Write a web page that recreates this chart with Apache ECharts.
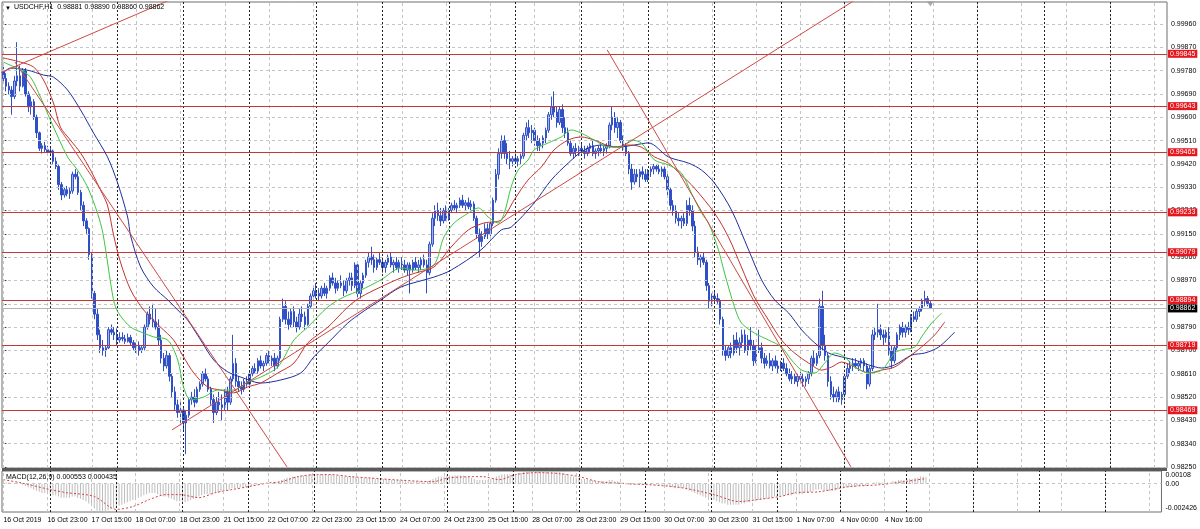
<!DOCTYPE html>
<html><head><meta charset="utf-8">
<script src="https://cdn.jsdelivr.net/npm/echarts@6/dist/echarts.min.js"></script>
<style>html,body{margin:0;padding:0;background:#fff}#c{width:1200px;height:529px}</style>
</head><body><div id="c"></div>
<script>
// ---------- DATA ----------
const symbolName = 'USDCHF,H1';
const lastQuote = ['0.98881', '0.98890', '0.98860', '0.98862'];
const macdName = 'MACD(12,26,9)';
const macdLast = ['0.000553', '0.000435'];

const axisSlots = 421;            // bar slots across the time axis (incl. empty right shift)
const xTickStep = 16;             // bars between time labels
const xTickLabels = ['16 Oct 2019','16 Oct 23:00','17 Oct 15:00','18 Oct 07:00','18 Oct 23:00','21 Oct 15:00',
  '22 Oct 07:00','22 Oct 23:00','23 Oct 15:00','24 Oct 07:00','24 Oct 23:00','25 Oct 15:00','28 Oct 07:00',
  '28 Oct 23:00','29 Oct 15:00','30 Oct 07:00','30 Oct 23:00','31 Oct 15:00','1 Nov 07:00','4 Nov 00:00','4 Nov 16:00'];
const daySeparators = [17,41,65,89,113,137,161,185,209,233,257,281,304,328,352,376,400];

const yTicks = [0.98250,0.98340,0.98430,0.98520,0.98610,0.98700,0.98790,0.98880,0.98970,0.99060,
  0.99150,0.99240,0.99330,0.99420,0.99510,0.99600,0.99690,0.99780,0.99870,0.99960];
const priceMin = 0.98246, priceMax = 1.00045;

const levels = [0.99845,0.99643,0.99465,0.99233,0.99079,0.98894,0.98719,0.98469];
const bidPrice = 0.98862;
const shiftBar = 335;             // chart-shift marker sits above the last bar

// [open, high, low, close]
const candles = [
[.99775,.99795,.99740,.99750],[.99750,.99770,.99700,.99720],[.99720,.99735,.99690,.99705],[.99705,.99720,.99610,.99680],
[.99680,.99760,.99670,.99740],[.99740,.99890,.99720,.99760],[.99760,.99800,.99700,.99720],[.99720,.99790,.99715,.99780],
[.99780,.99790,.99680,.99690],[.99690,.99700,.99620,.99640],[.99640,.99680,.99610,.99660],[.99660,.99670,.99590,.99600],
[.99600,.99610,.99520,.99540],[.99540,.99545,.99470,.99480],[.99480,.99500,.99460,.99490],[.99490,.99505,.99465,.99475],
[.99475,.99490,.99455,.99465],[.99465,.99485,.99450,.99470],[.99470,.99475,.99420,.99430],[.99430,.99445,.99400,.99410],
[.99410,.99420,.99320,.99340],[.99340,.99350,.99280,.99300],[.99300,.99330,.99290,.99320],[.99320,.99335,.99295,.99305],
[.99305,.99330,.99285,.99315],[.99315,.99390,.99305,.99380],[.99380,.99400,.99360,.99370],[.99370,.99390,.99300,.99310],
[.99310,.99320,.99240,.99260],[.99260,.99275,.99180,.99200],[.99200,.99210,.99150,.99170],[.99170,.99175,.99050,.99070],
[.99070,.99080,.98900,.98920],[.98920,.98930,.98820,.98840],[.98840,.98860,.98740,.98760],[.98760,.98780,.98690,.98710],
[.98710,.98740,.98680,.98700],[.98700,.98720,.98675,.98710],[.98710,.98790,.98705,.98780],[.98780,.98800,.98760,.98770],
[.98770,.98790,.98740,.98760],[.98760,.98785,.98720,.98740],[.98740,.98770,.98730,.98750],[.98750,.98770,.98735,.98745],
[.98745,.98760,.98725,.98735],[.98735,.98765,.98730,.98750],[.98750,.98760,.98720,.98730],[.98730,.98740,.98700,.98710],
[.98710,.98730,.98690,.98720],[.98720,.98735,.98680,.98700],[.98700,.98720,.98690,.98710],[.98710,.98800,.98700,.98790],
[.98790,.98850,.98780,.98840],[.98840,.98870,.98800,.98820],[.98820,.98880,.98790,.98810],[.98810,.98860,.98780,.98790],
[.98790,.98820,.98720,.98740],[.98740,.98760,.98650,.98670],[.98670,.98690,.98620,.98640],[.98640,.98700,.98630,.98680],
[.98680,.98690,.98580,.98600],[.98600,.98610,.98520,.98540],[.98540,.98560,.98470,.98490],[.98490,.98510,.98440,.98460],
[.98460,.98500,.98420,.98470],[.98470,.98480,.98390,.98420],[.98420,.98470,.98300,.98450],[.98450,.98520,.98440,.98510],
[.98510,.98540,.98490,.98520],[.98520,.98550,.98480,.98500],[.98500,.98560,.98495,.98550],[.98550,.98580,.98540,.98570],
[.98570,.98620,.98560,.98610],[.98610,.98630,.98580,.98590],[.98590,.98600,.98540,.98550],[.98550,.98560,.98490,.98510],
[.98510,.98530,.98420,.98460],[.98460,.98520,.98450,.98500],[.98500,.98540,.98470,.98490],[.98490,.98530,.98430,.98480],
[.98480,.98550,.98470,.98540],[.98540,.98560,.98470,.98500],[.98500,.98600,.98490,.98590],[.98590,.98760,.98580,.98650],
[.98650,.98670,.98560,.98580],[.98580,.98600,.98540,.98560],[.98560,.98580,.98530,.98550],[.98550,.98590,.98540,.98580],
[.98580,.98600,.98560,.98570],[.98570,.98620,.98565,.98610],[.98610,.98640,.98600,.98630],[.98630,.98650,.98610,.98620],
[.98620,.98670,.98610,.98660],[.98660,.98680,.98630,.98640],[.98640,.98660,.98620,.98650],[.98650,.98690,.98640,.98680],
[.98680,.98700,.98650,.98660],[.98660,.98680,.98640,.98670],[.98670,.98690,.98620,.98640],[.98640,.98680,.98630,.98670],
[.98670,.98830,.98660,.98820],[.98820,.98900,.98810,.98870],[.98870,.98890,.98800,.98820],[.98820,.98850,.98780,.98800],
[.98800,.98860,.98790,.98850],[.98850,.98870,.98790,.98810],[.98810,.98830,.98770,.98790],[.98790,.98860,.98780,.98840],
[.98840,.98870,.98810,.98830],[.98830,.98850,.98780,.98800],[.98800,.98880,.98795,.98870],[.98870,.98920,.98860,.98910],
[.98910,.98950,.98890,.98930],[.98930,.98960,.98900,.98920],[.98920,.98940,.98890,.98910],[.98910,.98950,.98900,.98940],
[.98940,.98960,.98910,.98920],[.98920,.98950,.98900,.98940],[.98940,.98990,.98930,.98980],[.98980,.99000,.98950,.98960],
[.98960,.98980,.98920,.98940],[.98940,.98970,.98930,.98960],[.98960,.98990,.98940,.98950],[.98950,.98970,.98910,.98930],
[.98930,.98980,.98920,.98970],[.98970,.99000,.98950,.98980],[.98980,.99000,.98930,.98950],[.98950,.99040,.98940,.99030],
[.99030,.99040,.98900,.98920],[.98920,.98970,.98900,.98960],[.98960,.99000,.98940,.98990],[.98990,.99050,.98980,.99040],
[.99040,.99080,.99020,.99060],[.99060,.99100,.99030,.99050],[.99050,.99070,.99000,.99020],[.99020,.99060,.99010,.99050],
[.99050,.99080,.99030,.99040],[.99040,.99060,.99000,.99020],[.99020,.99050,.99000,.99040],[.99040,.99070,.99030,.99060],
[.99060,.99080,.99020,.99030],[.99030,.99050,.99000,.99040],[.99040,.99060,.99010,.99020],[.99020,.99050,.99000,.99040],
[.99040,.99060,.99010,.99030],[.99030,.99050,.99000,.99010],[.99010,.99040,.98990,.99030],[.99030,.99040,.98920,.99010],
[.99010,.99050,.99000,.99040],[.99040,.99060,.99010,.99020],[.99020,.99050,.99000,.99030],[.99030,.99060,.99010,.99050],
[.99050,.99070,.99020,.99030],[.99030,.99050,.98920,.99000],[.99000,.99120,.98990,.99110],[.99110,.99230,.99100,.99210],
[.99210,.99260,.99180,.99240],[.99240,.99270,.99200,.99220],[.99220,.99250,.99180,.99200],[.99200,.99250,.99190,.99240],
[.99240,.99260,.99200,.99210],[.99210,.99250,.99200,.99240],[.99240,.99270,.99230,.99260],[.99260,.99280,.99240,.99250],
[.99250,.99270,.99230,.99260],[.99260,.99290,.99250,.99280],[.99280,.99300,.99250,.99260],[.99260,.99280,.99240,.99270],
[.99270,.99290,.99245,.99255],[.99255,.99280,.99240,.99265],[.99265,.99275,.99200,.99210],[.99210,.99220,.99130,.99150],
[.99150,.99170,.99060,.99120],[.99120,.99160,.99100,.99140],[.99140,.99190,.99130,.99170],[.99170,.99190,.99130,.99150],
[.99150,.99200,.99140,.99190],[.99190,.99290,.99180,.99280],[.99280,.99400,.99270,.99380],[.99380,.99480,.99360,.99460],
[.99460,.99530,.99440,.99510],[.99510,.99530,.99440,.99460],[.99460,.99500,.99420,.99440],[.99440,.99470,.99400,.99430],
[.99430,.99450,.99410,.99440],[.99440,.99460,.99420,.99430],[.99430,.99450,.99410,.99440],[.99440,.99460,.99420,.99450],
[.99450,.99540,.99440,.99530],[.99530,.99580,.99510,.99560],[.99560,.99590,.99520,.99540],[.99540,.99570,.99500,.99550],
[.99550,.99560,.99490,.99510],[.99510,.99530,.99470,.99490],[.99490,.99520,.99470,.99500],[.99500,.99530,.99480,.99520],
[.99520,.99560,.99500,.99550],[.99550,.99620,.99540,.99610],[.99610,.99680,.99590,.99640],[.99640,.99700,.99600,.99620],
[.99620,.99640,.99560,.99580],[.99580,.99640,.99570,.99630],[.99630,.99650,.99540,.99560],[.99560,.99600,.99520,.99540],
[.99540,.99560,.99490,.99500],[.99500,.99510,.99450,.99460],[.99460,.99490,.99440,.99480],[.99480,.99500,.99450,.99470],
[.99470,.99490,.99450,.99480],[.99480,.99500,.99460,.99470],[.99470,.99490,.99440,.99460],[.99460,.99490,.99450,.99480],
[.99480,.99500,.99460,.99490],[.99490,.99510,.99450,.99460],[.99460,.99480,.99440,.99470],[.99470,.99490,.99450,.99480],
[.99480,.99500,.99460,.99470],[.99470,.99490,.99450,.99480],[.99480,.99500,.99460,.99490],[.99490,.99580,.99480,.99570],
[.99570,.99640,.99550,.99600],[.99600,.99620,.99540,.99560],[.99560,.99600,.99520,.99580],[.99580,.99590,.99500,.99510],
[.99510,.99530,.99470,.99490],[.99490,.99500,.99450,.99460],[.99460,.99470,.99380,.99400],[.99400,.99420,.99320,.99350],
[.99350,.99400,.99340,.99380],[.99380,.99400,.99350,.99370],[.99370,.99400,.99330,.99390],[.99390,.99410,.99360,.99380],
[.99380,.99400,.99350,.99360],[.99360,.99400,.99350,.99390],[.99390,.99410,.99370,.99400],[.99400,.99420,.99380,.99410],
[.99410,.99420,.99390,.99400],[.99400,.99420,.99380,.99390],[.99390,.99410,.99370,.99400],[.99400,.99410,.99360,.99370],
[.99370,.99380,.99300,.99320],[.99320,.99330,.99240,.99260],[.99260,.99280,.99220,.99240],[.99240,.99260,.99190,.99210],
[.99210,.99230,.99180,.99200],[.99200,.99220,.99170,.99210],[.99210,.99230,.99180,.99190],[.99190,.99280,.99180,.99260],
[.99260,.99290,.99220,.99240],[.99240,.99260,.99160,.99180],[.99180,.99200,.99060,.99080],[.99080,.99100,.99030,.99050],
[.99050,.99070,.99020,.99060],[.99060,.99080,.99030,.99040],[.99040,.99050,.98930,.98950],[.98950,.98960,.98860,.98890],
[.98890,.98920,.98870,.98910],[.98910,.98930,.98880,.98900],[.98900,.98920,.98880,.98890],[.98890,.98900,.98800,.98820],
[.98820,.98830,.98680,.98700],[.98700,.98720,.98660,.98680],[.98680,.98720,.98670,.98710],[.98710,.98730,.98670,.98690],
[.98690,.98760,.98680,.98740],[.98740,.98770,.98690,.98710],[.98710,.98750,.98680,.98730],[.98730,.98780,.98710,.98760],
[.98760,.98780,.98690,.98700],[.98700,.98760,.98680,.98740],[.98740,.98790,.98700,.98720],[.98720,.98740,.98640,.98660],
[.98660,.98720,.98650,.98700],[.98700,.98780,.98690,.98710],[.98710,.98730,.98650,.98670],[.98670,.98690,.98630,.98650],
[.98650,.98680,.98640,.98660],[.98660,.98690,.98630,.98640],[.98640,.98670,.98620,.98660],[.98660,.98680,.98630,.98640],
[.98640,.98660,.98610,.98630],[.98630,.98660,.98620,.98650],[.98650,.98670,.98620,.98630],[.98630,.98650,.98600,.98610],
[.98610,.98630,.98580,.98590],[.98590,.98620,.98570,.98600],[.98600,.98610,.98570,.98580],[.98580,.98610,.98560,.98600],
[.98600,.98620,.98570,.98590],[.98590,.98610,.98560,.98580],[.98580,.98600,.98560,.98590],[.98590,.98620,.98570,.98610],
[.98610,.98680,.98600,.98670],[.98670,.98700,.98640,.98650],[.98650,.98690,.98640,.98680],[.98680,.98900,.98670,.98870],
[.98870,.98930,.98700,.98720],[.98720,.98760,.98660,.98680],[.98680,.98690,.98560,.98580],[.98580,.98600,.98510,.98530],
[.98530,.98560,.98500,.98520],[.98520,.98550,.98500,.98540],[.98540,.98560,.98500,.98510],[.98510,.98540,.98490,.98530],
[.98530,.98610,.98520,.98600],[.98600,.98650,.98590,.98630],[.98630,.98660,.98610,.98640],[.98640,.98670,.98620,.98650],
[.98650,.98670,.98630,.98640],[.98640,.98660,.98620,.98650],[.98650,.98670,.98630,.98660],[.98660,.98670,.98620,.98640],
[.98640,.98650,.98550,.98570],[.98570,.98640,.98560,.98630],[.98630,.98780,.98620,.98760],[.98760,.98790,.98740,.98770],
[.98770,.98880,.98750,.98780],[.98780,.98800,.98740,.98760],[.98760,.98780,.98720,.98750],[.98750,.98780,.98730,.98770],
[.98770,.98790,.98680,.98700],[.98700,.98720,.98630,.98660],[.98660,.98720,.98650,.98710],[.98710,.98770,.98700,.98760],
[.98760,.98800,.98740,.98790],[.98790,.98810,.98750,.98770],[.98770,.98800,.98750,.98790],[.98790,.98810,.98760,.98780],
[.98780,.98840,.98770,.98830],[.98830,.98850,.98810,.98820],[.98820,.98860,.98810,.98850],[.98850,.98870,.98830,.98860],
[.98860,.98900,.98850,.98890],[.98890,.98930,.98870,.98900],[.98900,.98910,.98870,.98881],[.98881,.98890,.98860,.98862]
];

// Alligator lines: [bar, price]
const jaw = [[0,0.99771],[2.5,0.99790],[8.7,0.99782],[14.5,0.99763],[18.1,0.99755],[23.2,0.99705],[27.9,0.99628],[32.6,0.99539],
[37.6,0.99447],[41.3,0.99346],[44.9,0.99215],[46,0.99142],[49.6,0.99022],[54.3,0.98945],[59.4,0.98895],[64.1,0.98844],[66.6,0.98817],
[71.3,0.98740],[76,0.98663],[81.1,0.98617],[85.8,0.98597],[93,0.98574],[100.3,0.98586],[107.5,0.98613],[112.2,0.98675],[117.3,0.98729],
[124.5,0.98806],[129.2,0.98844],[136.4,0.98895],[143.7,0.98945],[155.6,0.98983],[161.8,0.99010],[172.6,0.99088],[179.9,0.99165],
[183.5,0.99176],[191.8,0.99269],[198,0.99358],[204.1,0.99423],[209.9,0.99474],[216,0.99493],[222.2,0.99485],[228,0.99493],
[233.1,0.99501],[240.3,0.99447],[247.6,0.99423],[252.3,0.99396],[257,0.99346],[263.1,0.99242],[269.3,0.99088],[274,0.98972],
[278.7,0.98895],[283.8,0.98844],[288.5,0.98779],[293.2,0.98729],[298.2,0.98690],[302.9,0.98675],[307.6,0.98663],[312.7,0.98644],
[317.4,0.98632],[322.1,0.98644],[328.3,0.98682],[333,0.98690],[338,0.98713],[343.8,0.98771]];
const teeth = [[0,0.99829],[6.2,0.99813],[10.9,0.99794],[14.5,0.99744],[18.1,0.99655],[20.6,0.99562],[24.2,0.99512],[27.9,0.99462],
[31.5,0.99396],[35.1,0.99319],[37.6,0.99261],[39.8,0.99146],[42.3,0.99041],[46,0.98933],[50.7,0.98856],[56.8,0.98790],[61.5,0.98740],
[65.1,0.98675],[68.8,0.98613],[73.8,0.98559],[78.5,0.98547],[83.2,0.98536],[88.3,0.98559],[93,0.98574],[99.2,0.98613],[105,0.98651],
[110,0.98729],[117.3,0.98790],[124.5,0.98868],[129.2,0.98906],[136.4,0.98945],[143.7,0.98980],[149,0.98999],[155.6,0.99022],
[161.8,0.99099],[168,0.99165],[173.7,0.99192],[179.9,0.99203],[184.6,0.99281],[189.6,0.99358],[194.4,0.99408],[199,0.99474],
[204.1,0.99512],[208.8,0.99524],[213.5,0.99512],[220.8,0.99485],[225.8,0.99493],[230.5,0.99485],[235.3,0.99447],[240.3,0.99423],
[245,0.99377],[249.7,0.99327],[257,0.99230],[262,0.99138],[266.7,0.99022],[271.4,0.98906],[276.5,0.98817],[281.2,0.98740],
[285.9,0.98690],[291,0.98651],[295.7,0.98624],[299.3,0.98636],[302.9,0.98655],[307.6,0.98636],[312.7,0.98613],[317.4,0.98624],
[322.1,0.98636],[327.2,0.98675],[331.8,0.98713],[336.6,0.98760],[340.2,0.98810]];
const lips = [[0,0.99813],[6.2,0.99782],[9.8,0.99755],[13.4,0.99678],[17,0.99589],[23.2,0.99447],[26.8,0.99396],[30.4,0.99331],
[34,0.99230],[36,0.99150],[39.8,0.98895],[41.6,0.98844],[46,0.98790],[50.7,0.98767],[54.3,0.98752],[59.4,0.98740],[63,0.98663],
[65.1,0.98559],[67.7,0.98509],[72.4,0.98520],[77.5,0.98547],[83.2,0.98547],[88.3,0.98578],[93,0.98597],[99.2,0.98636],[105,0.98740],
[110,0.98790],[117.3,0.98868],[123,0.98906],[129.2,0.98933],[136.4,0.98972],[143.7,0.99018],[149,0.99010],[155.6,0.99030],
[159.2,0.99138],[162.9,0.99192],[168,0.99230],[171.6,0.99250],[175.2,0.99215],[178.8,0.99192],[181,0.99230],[183.5,0.99331],
[186,0.99396],[189.6,0.99435],[191.8,0.99474],[196.9,0.99501],[201.6,0.99524],[205.2,0.99551],[208.8,0.99539],[213.5,0.99512],
[218.6,0.99485],[223.3,0.99485],[226.9,0.99512],[230.5,0.99501],[235.3,0.99435],[240.3,0.99416],[245,0.99385],[248.6,0.99308],
[252.3,0.99230],[254.8,0.99192],[258.4,0.99088],[260.6,0.98999],[264.2,0.98868],[266.7,0.98806],[271.4,0.98767],[276.5,0.98740],
[281.2,0.98713],[284.8,0.98663],[288.5,0.98624],[293.2,0.98613],[296.8,0.98651],[300.4,0.98690],[304,0.98675],[307.6,0.98636],
[312.7,0.98613],[317.4,0.98624],[322.1,0.98690],[324.6,0.98702],[329.3,0.98713],[331.8,0.98752],[335.5,0.98806],[339.1,0.98844]];

// trend lines: two [bar, price] anchors each
const trendLines = [
  [[-1.2,0.99771],[60.2,1.00053]],
  [[60.9,0.98393],[307.8,1.00053]],
  [[4.2,0.99813],[102.5,0.98250]],
  [[218.2,0.99860],[306.3,0.98250]]
];

// MACD main (histogram) per bar
const macdMain = [
.0002,.0001,.0001,0,0,.0001,0,-.0001,-.0002,-.0003,
-.0004,-.0005,-.0006,-.0007,-.0008,-.0008,-.0009,-.0009,-.0010,-.0010,
-.0011,-.0012,-.0012,-.0012,-.0012,-.0011,-.0011,-.0012,-.0013,-.0014,
-.0015,-.0017,-.0019,-.0021,-.0023,-.0024,-.0024,-.0024,-.0023,-.0022,
-.0021,-.0020,-.0019,-.0018,-.0017,-.0016,-.0015,-.0014,-.0013,-.0012,
-.0011,-.0010,-.0009,-.0008,-.0008,-.0008,-.0009,-.0010,-.0011,-.0011,
-.0012,-.0013,-.0014,-.0015,-.0015,-.0016,-.0016,-.0015,-.0014,-.0013,
-.0012,-.0011,-.0010,-.0009,-.0009,-.0009,-.0009,-.0008,-.0008,-.0007,
-.0006,-.0006,-.0005,-.0004,-.0004,-.0004,-.0003,-.0003,-.0003,-.0002,
-.0002,-.0001,-.0001,0,0,0,0,0,.0001,.0001,
.0002,.0003,.0004,.0005,.0005,.0006,.0006,.0006,.0007,.0007,
.0007,.0008,.0008,.0008,.0008,.0008,.0008,.0008,.0008,.0008,
.0008,.0007,.0007,.0007,.0006,.0006,.0006,.0006,.0006,.0005,
.0005,.0005,.0005,.0005,.0005,.0004,.0004,.0004,.0004,.0004,
.0004,.0003,.0003,.0003,.0003,.0003,.0002,.0002,.0002,.0002,
.0002,.0002,.0002,.0001,.0002,.0003,.0004,.0005,.0006,.0006,
.0006,.0007,.0007,.0007,.0007,.0007,.0007,.0007,.0006,.0006,
.0005,.0004,.0003,.0003,.0003,.0003,.0003,.0004,.0005,.0006,
.0007,.0008,.0008,.0008,.0008,.0008,.0008,.0009,.0009,.0010,
.0010,.0010,.0010,.0010,.0010,.0010,.0010,.0011,.0011,.0011,
.0011,.0010,.0010,.0009,.0008,.0007,.0006,.0006,.0005,.0005,
.0004,.0004,.0003,.0003,.0003,.0002,.0002,.0002,.0002,.0002,
.0003,.0003,.0002,.0002,.0001,.0001,0,-.0001,-.0001,-.0001,
-.0001,-.0001,-.0001,-.0001,-.0001,-.0001,-.0001,-.0001,-.0001,-.0001,
-.0002,-.0002,-.0003,-.0003,-.0004,-.0004,-.0004,-.0004,-.0005,-.0006,
-.0007,-.0008,-.0009,-.0010,-.0011,-.0012,-.0013,-.0013,-.0014,-.0015,
-.0016,-.0017,-.0017,-.0018,-.0018,-.0018,-.0018,-.0018,-.0017,-.0017,
-.0016,-.0016,-.0015,-.0015,-.0014,-.0014,-.0013,-.0013,-.0012,-.0012,
-.0011,-.0011,-.0011,-.0010,-.0010,-.0010,-.0010,-.0009,-.0009,-.0009,
-.0009,-.0008,-.0008,-.0007,-.0006,-.0005,-.0005,-.0005,-.0006,-.0006,
-.0006,-.0006,-.0006,-.0005,-.0004,-.0004,-.0003,-.0003,-.0003,-.0003,
-.0002,-.0002,-.0002,-.0002,-.0001,0,.0001,.0001,.0001,.0001,
.0001,.0001,.0001,.0002,.0002,.0003,.0003,.0003,.0004,.0004,
.0004,.0005,.0005,.0006,.0006,.000553
];
// MACD signal: [bar, value]
const macdSignal = [[0,0.00034],[6,0.00009],[17,-0.00051],[23,-0.00077],[33,-0.0011],[41,-0.0022],[47,-0.00196],[53,-0.00136],
[59,-0.00094],[64,-0.00094],[71,-0.0012],[77,-0.00077],[83,-0.00051],[89,-0.00026],[96,0.00005],[101,0.00017],[107,0.0006],
[114,0.00077],[119,0.00077],[126,0.0006],[132,0.0005],[144,0.0003],[156,0.00017],[162,0.0005],[174,0.0006],[180,0.00034],
[186,0.00077],[194,0.00094],[202,0.00085],[209,0.0006],[216,0.00017],[226,0.0],[234,-0.00009],[246,-0.00034],[258,-0.00094],
[267,-0.00153],[274,-0.00136],[282,-0.0011],[288,-0.00077],[296,-0.0007],[307,-0.00026],[318,-0.0001],[328,0.0002],[335,0.000435]];
const macdTicks = [-0.002426, 0, 0.00108];
const macdTickLabels = ['-0.002426', '0.00', '0.00108'];

// ---------- CHART ----------
const FONT = "'Liberation Sans',Arial,sans-serif";
const FS = 7;
const chart = echarts.init(document.getElementById('c'));
const cats = Array.from({length: axisSlots}, (_, i) => String(i));
const gridBars = [];
for (let b = 0; b < axisSlots; b += xTickStep) gridBars.push(b);

function hLines(vals, color, dash) {
  return { silent: true, symbol: 'none', animation: false, precision: 6, label: {show: false},
    lineStyle: {color: color, type: dash, width: 1}, data: vals.map(v => ({yAxis: v})) };
}
function vLines(vals, color, dash) {
  return { silent: true, symbol: 'none', animation: false, precision: 6, label: {show: false},
    lineStyle: {color: color, type: dash, width: 1}, data: vals.map(v => ({xAxis: v})) };
}
const boxLabel = (bg) => ({ show: true, position: 'end', distance: 1, formatter: p => Number(p.value).toFixed(5),
  backgroundColor: bg, color: '#fff', fontSize: FS, fontFamily: FONT, padding: [1, 2, 0, 2] });

const series = [
  {type: 'line', xAxisIndex: 2, yAxisIndex: 0, data: [], z: 1, markLine: hLines(yTicks, '#c4c4c4', [3, 3])},
  {type: 'line', xAxisIndex: 2, yAxisIndex: 0, data: [], z: 1, markLine: vLines(gridBars, '#c4c4c4', [3, 3])},
  {type: 'line', xAxisIndex: 2, yAxisIndex: 0, data: [], z: 1, markLine: vLines(daySeparators, '#222', [2, 2])},
  {type: 'line', xAxisIndex: 3, yAxisIndex: 1, data: [], z: 1, markLine: hLines([0], '#c4c4c4', [3, 3])},
  {type: 'line', xAxisIndex: 3, yAxisIndex: 1, data: [], z: 1, markLine: vLines(gridBars, '#c4c4c4', [3, 3])},
  {type: 'line', xAxisIndex: 3, yAxisIndex: 1, data: [], z: 1, markLine: vLines(daySeparators, '#222', [2, 2])},
  {type: 'bar', xAxisIndex: 1, yAxisIndex: 1, data: macdMain, barWidth: 1, itemStyle: {color: '#bdbdbd'}, z: 2, silent: true},
  {type: 'line', xAxisIndex: 3, yAxisIndex: 1, data: macdSignal, showSymbol: false, smooth: 0.3, z: 3,
    lineStyle: {color: '#d64545', width: 1, type: [2, 2]}},
  {type: 'line', xAxisIndex: 2, yAxisIndex: 0, data: [], z: 3, markLine: Object.assign(hLines(levels, '#c93636', 'solid'), {label: boxLabel('#e5161d')})},
  {type: 'line', xAxisIndex: 2, yAxisIndex: 0, data: [], z: 3, markLine: Object.assign(hLines([bidPrice], '#b4b4b4', 'solid'), {label: boxLabel('#000')})},
  {type: 'candlestick', xAxisIndex: 0, yAxisIndex: 0, barWidth: 2, z: 4,
    data: candles.map(c => [c[0], c[3], c[2], c[1]]),
    itemStyle: {color: '#9fb1e8', color0: '#2f4fc6', borderColor: '#3553c8', borderColor0: '#2f4fc6', borderWidth: 1}},
  {type: 'line', xAxisIndex: 2, yAxisIndex: 0, data: jaw, showSymbol: false, smooth: 0.3, z: 5, lineStyle: {color: '#1f2f9c', width: 1}},
  {type: 'line', xAxisIndex: 2, yAxisIndex: 0, data: teeth, showSymbol: false, smooth: 0.3, z: 5, lineStyle: {color: '#c0352f', width: 1}},
  {type: 'line', xAxisIndex: 2, yAxisIndex: 0, data: lips, showSymbol: false, smooth: 0.3, z: 5, lineStyle: {color: '#3fc43f', width: 1}},
  {type: 'scatter', xAxisIndex: 2, yAxisIndex: 0, data: [[shiftBar, priceMax]], symbol: 'triangle', symbolRotate: 180,
    symbolSize: [7, 5], symbolOffset: [0, 2], itemStyle: {color: '#9a9a9a'}, silent: true, z: 7}
];
trendLines.forEach(t => series.push({type: 'line', xAxisIndex: 2, yAxisIndex: 0, data: t, showSymbol: false, z: 6,
  lineStyle: {color: '#cc4a44', width: 1}}));

chart.setOption({
  animation: false,
  backgroundColor: '#ffffff',
  grid: [
    {left: 2, right: 33, top: 2, height: 466, show: true, borderColor: '#6e6e6e', borderWidth: 1, backgroundColor: '#fff'},
    {left: 2, right: 33, top: 471, height: 41, show: true, borderColor: '#6e6e6e', borderWidth: 1, backgroundColor: '#fff'}
  ],
  xAxis: [
    {type: 'category', gridIndex: 0, data: cats, boundaryGap: true, axisLine: {show: false}, axisTick: {show: false}, axisLabel: {show: false}, splitLine: {show: false}},
    {type: 'category', gridIndex: 1, data: cats, boundaryGap: true, axisLine: {show: false}, axisTick: {show: false}, splitLine: {show: false},
      axisLabel: {show: true, interval: i => i % xTickStep === 0 && i / xTickStep < xTickLabels.length,
        formatter: (v, i) => xTickLabels[Math.round(i / xTickStep)] || '', align: 'left', margin: 5,
        fontSize: FS, color: '#000', fontFamily: FONT}},
    {type: 'value', gridIndex: 0, min: -0.5, max: axisSlots - 0.5, show: false},
    {type: 'value', gridIndex: 1, min: -0.5, max: axisSlots - 0.5, show: false}
  ],
  yAxis: [
    {type: 'value', gridIndex: 0, position: 'right', min: priceMin, max: priceMax,
      axisLine: {show: false}, splitLine: {show: false},
      axisTick: {show: true, length: 3, customValues: yTicks, lineStyle: {color: '#333'}},
      axisLabel: {customValues: yTicks, formatter: v => v.toFixed(5), fontSize: FS, color: '#000', margin: 4, fontFamily: FONT}},
    {type: 'value', gridIndex: 1, position: 'right', min: macdTicks[0], max: macdTicks[2],
      axisLine: {show: false}, splitLine: {show: false},
      axisTick: {show: false},
      axisLabel: {customValues: macdTicks, margin: 4, fontSize: FS, color: '#000', fontFamily: FONT,
        formatter: v => {
          const k = macdTicks.indexOf(v);
          return k === 2 ? '{t|' + macdTickLabels[k] + '}' : k === 0 ? '{b|' + macdTickLabels[k] + '}' : macdTickLabels[k];
        },
        rich: {t: {padding: [9, 0, 0, 0], fontSize: FS, fontFamily: FONT}, b: {padding: [0, 0, 8, 0], fontSize: FS, fontFamily: FONT}}}}
  ],
  graphic: [
    {type: 'rect', shape: {x: 2, y: 468, width: 1165, height: 3}, style: {fill: '#5a5a5a'}, z: 10},
    {type: 'text', left: 5, top: 5, style: {text: '\u25BC', fontSize: 6, fill: '#000'}, z: 10},
    {type: 'text', left: 14, top: 4, style: {text: symbolName + '  ' + lastQuote.join(' '), fontSize: FS, fontFamily: FONT, fill: '#000'}, z: 10},
    {type: 'text', left: 6, top: 474, style: {text: macdName + ' ' + macdLast.join(' '), fontSize: FS, fontFamily: FONT, fill: '#000'}, z: 10}
  ],
  series: series
});
</script></body></html>
